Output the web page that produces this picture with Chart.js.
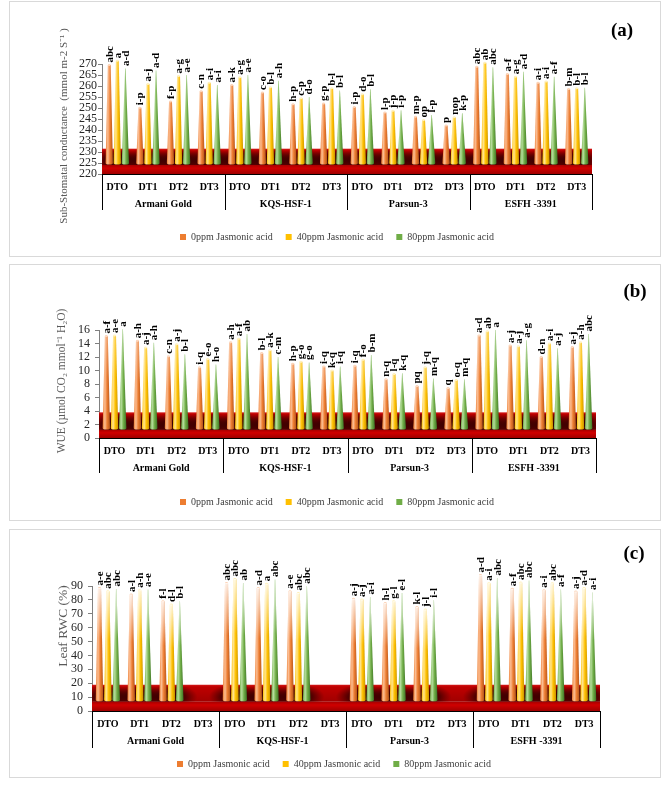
<!DOCTYPE html>
<html>
<head>
<meta charset="utf-8">
<script src="https://cdn.jsdelivr.net/npm/chart.js@4.4.1/dist/chart.umd.min.js"></script>
<style>
  html,body{margin:0;padding:0;background:#fff;}
  body{width:669px;height:785px;position:relative;overflow:hidden;font-family:"Liberation Serif",serif;}
  .frame{position:absolute;left:9px;width:652px;border:1px solid #d9d9d9;box-sizing:border-box;}
  canvas{position:absolute;left:0;}
  .tag{position:absolute;font:bold 19px "Liberation Serif",serif;color:#000;transform:translate(-50%,-50%);white-space:nowrap;}
</style>
</head>
<body>
<div class="frame" style="top:1px;height:256px"></div>
<div class="frame" style="top:264px;height:257px"></div>
<div class="frame" style="top:529px;height:249px"></div>
<canvas id="ca" width="669" height="258" style="top:0px"></canvas>
<canvas id="cb" width="669" height="262" style="top:262px"></canvas>
<canvas id="cc" width="669" height="258" style="top:527px"></canvas>
<div class="tag" style="left:622px;top:30px">(a)</div>
<div class="tag" style="left:635px;top:291px">(b)</div>
<div class="tag" style="left:634px;top:553px">(c)</div>
<script>
// ---------- DATA ----------
const groups = ["Armani Gold", "KQS-HSF-1", "Parsun-3", "ESFH -3391"];
const treatments = ["DTO", "DT1", "DT2", "DT3"];
const seriesNames = ["0ppm Jasmonic acid", "40ppm Jasmonic acid", "80ppm Jasmonic acid"];

// (a) Sub-stomatal conductance
const sscTitle = "Sub-Stomatal conductance  (mmol m-2 S\u207B\u00B9 )";
const ssc0  = [269.5, 250.1, 252.9, 257.6, 260.5, 257.0, 251.7, 252.1, 250.5, 247.9, 246.0, 242.0, 268.8, 265.5, 261.5, 258.6];
const ssc40 = [271.5, 260.9, 264.5, 261.5, 264.0, 259.4, 254.4, 259.0, 256.2, 248.8, 244.5, 245.8, 270.6, 264.2, 262.0, 259.0];
const ssc80 = [268.0, 267.0, 265.0, 260.5, 265.0, 262.4, 255.0, 258.0, 258.5, 249.0, 246.8, 247.6, 268.5, 266.5, 264.2, 259.2];
const ssc0L  = ["abc","i-p","f-p","c-n","a-k","c-o","h-p","g-p","i-p","l-p","m-p","p","abc","a-f","a-i","b-m"];
const ssc40L = ["a","a-j","a-g","a-i","a-g","b-l","c-p","b-l","d-o","j-p","op","nop","ab","a-g","a-i","b-l"];
const ssc80L = ["a-d","a-d","a-e","a-i","a-e","a-h","d-o","b-l","b-l","i-p","l-p","k-p","abc","a-d","a-f","b-l"];

// (b) WUE
const wueTitle = "WUE (\u00B5mol CO\u2082 mmol\u207B\u00B9 H\u2082O)";
const wue0  = [15.1, 14.4, 12.1, 10.5, 14.2, 12.6, 11.0, 10.6, 10.7, 8.7, 7.7, 7.4, 15.2, 13.7, 12.0, 13.5];
const wue40 = [15.2, 13.4, 13.9, 11.7, 14.7, 13.0, 11.3, 10.0, 11.6, 9.5, 10.5, 8.6, 15.8, 13.6, 14.0, 14.2];
const wue80 = [16.1, 14.1, 12.4, 10.9, 15.4, 12.0, 11.2, 10.6, 12.3, 9.6, 8.8, 8.7, 16.0, 14.5, 13.3, 15.4];
const wue0L  = ["a-f","a-h","c-n","i-q","a-h","b-l","h-p","i-q","i-q","n-q","pq","q","a-d","a-j","d-n","a-j"];
const wue40L = ["a-e","a-j","a-j","e-o","a-f","a-k","g-o","k-q","f-o","l-q","j-q","o-q","ab","a-j","a-i","a-h"];
const wue80L = ["a","a-h","b-l","h-o","ab","c-m","g-o","i-q","b-m","k-q","m-q","m-q","a","a-g","a-j","abc"];

// (c) Leaf RWC
const rwcTitle = "Leaf RWC (%)";
const rwc0  = [88.6, 83.8, 79.0, null, 92.2, 88.6, 86.2, null, 80.9, 77.8, 74.9, null, 98.0, 88.0, 87.0, 86.0];
const rwc40 = [86.2, 86.9, 76.6, null, 95.0, 91.7, 85.0, null, 80.2, 79.0, 73.0, null, 92.0, 92.6, 92.0, 88.6];
const rwc80 = [87.8, 87.4, 79.0, null, 92.2, 94.6, 89.8, null, 82.1, 85.0, 79.7, null, 95.7, 94.0, 87.4, 85.4];
const rwc0L  = ["a-e","a-l","f-l",null,"abc","a-d","a-e",null,"a-j","h-l","k-l",null,"a-d","a-f","a-i","a-j"];
const rwc40L = ["abc","a-h","d-l",null,"abc","a","abc",null,"a-j","g-l","j-l",null,"a-i","abc","abc","a-d"];
const rwc80L = ["abc","a-e","b-l",null,"ab","abc","abc",null,"a-i","e-l","i-l",null,"abc","abc","a-f","a-i"];

// ---------- STYLE ----------
const palette = [
  {main:'#ed7d31', light:'#fbbd92', dark:'#b0531a', cap:'#fcd2b5', kind:'cyl'},
  {main:'#ffc000', light:'#ffe590', dark:'#c79200', cap:'#fff0b8', kind:'cyl'},
  {main:'#70ad47', light:'#b5dc9b', dark:'#3d7225', cap:'#c8e6b4', kind:'cone'}
];
const SERIF = '"Liberation Serif", "Times New Roman", serif';
const categories = groups.flatMap(() => treatments);

function drawCone(ctx, x, yTop, yBase, w, pal, fade) {
  const hb = w / 2;
  const ht = pal.kind === 'cyl' ? Math.max(1.2, w * 0.2) : 0.25;
  const path = () => {
    ctx.beginPath();
    ctx.moveTo(x - hb, yBase);
    ctx.lineTo(x - ht, yTop);
    ctx.lineTo(x + ht, yTop);
    ctx.lineTo(x + hb, yBase);
    ctx.ellipse(x, yBase, hb, 1.6, 0, 0, Math.PI, false);
    ctx.closePath();
  };
  const g = ctx.createLinearGradient(x - hb, 0, x + hb, 0);
  g.addColorStop(0, pal.main);
  g.addColorStop(0.3, pal.light);
  g.addColorStop(0.6, pal.main);
  g.addColorStop(1, pal.dark);
  path();
  ctx.fillStyle = g;
  ctx.fill();
  if (pal.kind === 'cyl') {
    ctx.beginPath();
    ctx.ellipse(x, yTop, ht, 1, 0, 0, Math.PI * 2);
    ctx.fillStyle = pal.cap;
    ctx.fill();
  }
  if (fade > 0) {
    const fg = ctx.createLinearGradient(0, yTop - 1, 0, yTop + (yBase - yTop) * 0.45);
    fg.addColorStop(0, 'rgba(255,255,255,' + fade + ')');
    fg.addColorStop(1, 'rgba(255,255,255,0)');
    path();
    ctx.fillStyle = fg;
    ctx.fill();
  }
}

const conePlugin = {
  id: 'cones',
  afterLayout(chart, args, opts) {
    if (chart.legend && opts.legendShift) {
      chart.legend.left += opts.legendShift;
      chart.legend.right += opts.legendShift;
    }
  },
  beforeDatasetsDraw(chart, args, opts) {
    const ctx = chart.ctx;
    const ys = chart.scales.y, xs = chart.scales.x;
    const ca = chart.chartArea;
    const yT = ys.getPixelForValue(opts.floorTop);
    const yB = ys.getPixelForValue(opts.barBase);
    const yBot = ys.getPixelForValue(ys.min);
    const catW = (ca.right - ca.left) / categories.length;
    ctx.save();
    let g = ctx.createLinearGradient(0, yT, 0, yB + 2);
    g.addColorStop(0, '#d41a1a');
    g.addColorStop(0.12, '#bf0000');
    g.addColorStop(1, '#a00000');
    ctx.fillStyle = g;
    ctx.fillRect(ca.left, yT, ca.right - ca.left, yB + 2 - yT);
    ctx.save();
    ctx.beginPath();
    ctx.rect(ca.left, yT + 1.5, ca.right - ca.left, yB + 2 - yT - 1.5);
    ctx.clip();
    categories.forEach((c, i) => {
      const has = chart.data.datasets.some(d => d.data[i] != null);
      if (!has) return;
      const cx = xs.getPixelForValue(i);
      const cy = yB - (yB - yT) * 0.2;
      const ry = (yB - yT) * 0.85;
      const rx = catW * 0.82;
      ctx.save();
      ctx.translate(cx, cy);
      ctx.scale(rx / ry, 1);
      const rg = ctx.createRadialGradient(0, 0, 0, 0, 0, ry);
      rg.addColorStop(0, 'rgba(25,0,0,0.95)');
      rg.addColorStop(0.55, 'rgba(40,0,0,0.65)');
      rg.addColorStop(1, 'rgba(60,0,0,0)');
      ctx.fillStyle = rg;
      ctx.fillRect(-ry * 2, -ry * 2, ry * 4, ry * 4);
      ctx.restore();
    });
    ctx.restore();
    g = ctx.createLinearGradient(0, yB + 2, 0, yBot);
    g.addColorStop(0, '#a80000');
    g.addColorStop(0.35, '#d00000');
    g.addColorStop(1, '#a00000');
    ctx.fillStyle = g;
    ctx.fillRect(ca.left, yB + 2, ca.right - ca.left, yBot - yB - 2);
    chart.data.datasets.forEach((ds, di) => {
      const meta = chart.getDatasetMeta(di);
      if (!chart.isDatasetVisible(di)) return;
      meta.data.forEach((el, j) => {
        if (ds.data[j] == null) return;
        const p = el.getProps(['x', 'y', 'base', 'width'], true);
        drawCone(ctx, p.x, p.y, p.base, p.width, palette[di], opts.fade);
        const lab = ds.letters[j];
        if (lab) {
          ctx.save();
          ctx.translate(p.x + 0.5, p.y - 2.5);
          ctx.rotate(-Math.PI / 2);
          ctx.textAlign = 'left';
          ctx.textBaseline = 'middle';
          ctx.font = 'bold 11px ' + SERIF;
          ctx.fillStyle = '#000';
          ctx.fillText(lab, 0, 0);
          ctx.restore();
        }
      });
    });
    ctx.restore();
    return false;
  },
  afterDraw(chart, args, opts) {
    const ctx = chart.ctx;
    const xs = chart.scales.x;
    const ca = chart.chartArea;
    const catW = (ca.right - ca.left) / categories.length;
    ctx.save();
    ctx.strokeStyle = '#000';
    ctx.lineWidth = 1;
    for (let gI = 0; gI <= groups.length; gI++) {
      const xx = gI < groups.length ? xs.getPixelForValue(gI * treatments.length) - catW / 2 : ca.right;
      const px = Math.round(xx) + 0.5;
      ctx.beginPath();
      ctx.moveTo(px, ca.bottom);
      ctx.lineTo(px, ca.bottom + opts.sepLen);
      ctx.stroke();
    }
    ctx.font = 'bold 10px ' + SERIF;
    ctx.fillStyle = '#000';
    ctx.textAlign = 'center';
    ctx.textBaseline = 'middle';
    groups.forEach((gname, gI) => {
      const x0 = xs.getPixelForValue(gI * treatments.length);
      const x1 = xs.getPixelForValue(gI * treatments.length + treatments.length - 1);
      ctx.fillText(gname, (x0 + x1) / 2, ca.bottom + opts.groupOff);
    });
    ctx.translate(opts.titleX, opts.titleY);
    ctx.rotate(-Math.PI / 2);
    ctx.font = opts.titleSize + 'px ' + SERIF;
    ctx.fillStyle = '#595959';
    ctx.fillText(opts.title, 0, 0);
    ctx.restore();
  }
};

function makePanel(id, cfg) {
  const datasets = cfg.values.map((vals, i) => ({
    label: seriesNames[i],
    data: vals.map(v => v == null ? null : [cfg.barBase, v]),
    letters: cfg.letters[i],
    backgroundColor: palette[i].main,
    borderWidth: 0,
    categoryPercentage: 0.79,
    barPercentage: 0.9
  }));
  return new Chart(document.getElementById(id), {
    type: 'bar',
    data: {labels: categories, datasets},
    plugins: [conePlugin],
    options: {
      responsive: false,
      animation: false,
      layout: {padding: cfg.pad},
      scales: {
        x: {
          grid: {display: false, drawTicks: false},
          border: {display: true, color: '#000', width: 1},
          ticks: {font: {family: SERIF, size: 10, weight: 'bold'}, color: '#000', padding: cfg.xTickPad, maxRotation: 0, autoSkip: false},
          afterFit(s) { s.height = cfg.xHeight; }
        },
        y: {
          min: cfg.yMin, max: cfg.yMax,
          grid: {drawOnChartArea: false, drawTicks: true, tickLength: 4, color: '#808080'},
          border: {display: true, color: '#808080'},
          ticks: {stepSize: cfg.step, autoSkip: false, font: {family: SERIF, size: 12}, color: '#262626', padding: cfg.tickPad},
          afterFit(s) { s.width = cfg.yWidth; }
        }
      },
      plugins: {
        legend: {
          position: 'bottom',
          labels: {boxWidth: 6, boxHeight: 6, padding: 13, color: '#404040', font: {family: SERIF, size: 10}}
        },
        tooltip: {enabled: false},
        cones: {
          floorTop: cfg.floorTop, barBase: cfg.barBase, fade: cfg.fade,
          sepLen: cfg.sepLen, groupOff: cfg.groupOff, legendShift: cfg.legendShift,
          title: cfg.title, titleX: cfg.titleX, titleY: cfg.titleY, titleSize: cfg.titleSize
        }
      }
    }
  });
}

makePanel('ca', {
  values: [ssc0, ssc40, ssc80], letters: [ssc0L, ssc40L, ssc80L],
  yMin: 220, yMax: 270, step: 5, floorTop: 231.5, barBase: 225,
  title: sscTitle, titleX: 64, titleY: 126, titleSize: 11,
  pad: {left: 40, right: 77, top: 64, bottom: 6}, yWidth: 62, xHeight: 45, legendShift: 21,
  tickPad: 1, xTickPad: 7, fade: 0.15, sepLen: 36, groupOff: 30
});
makePanel('cb', {
  values: [wue0, wue40, wue80], letters: [wue0L, wue40L, wue80L],
  yMin: 0, yMax: 16, step: 2, floorTop: 3.8, barBase: 1.5,
  title: wueTitle, titleX: 62, titleY: 119, titleSize: 11.5,
  pad: {left: 40, right: 73, top: 68, bottom: 7}, yWidth: 59, xHeight: 46, legendShift: 19,
  tickPad: 5, xTickPad: 7, fade: 0.3, sepLen: 35, groupOff: 30
});
makePanel('cc', {
  values: [rwc0, rwc40, rwc80], letters: [rwc0L, rwc40L, rwc80L],
  yMin: 0, yMax: 90, step: 10, floorTop: 18.9, barBase: 8.1,
  title: rwcTitle, titleX: 63, titleY: 99, titleSize: 13.5,
  pad: {left: 40, right: 69, top: 59, bottom: 6}, yWidth: 52, xHeight: 35, legendShift: 14,
  tickPad: 5, xTickPad: 7, fade: 0.85, sepLen: 37, groupOff: 30
});
</script>
</body>
</html>
